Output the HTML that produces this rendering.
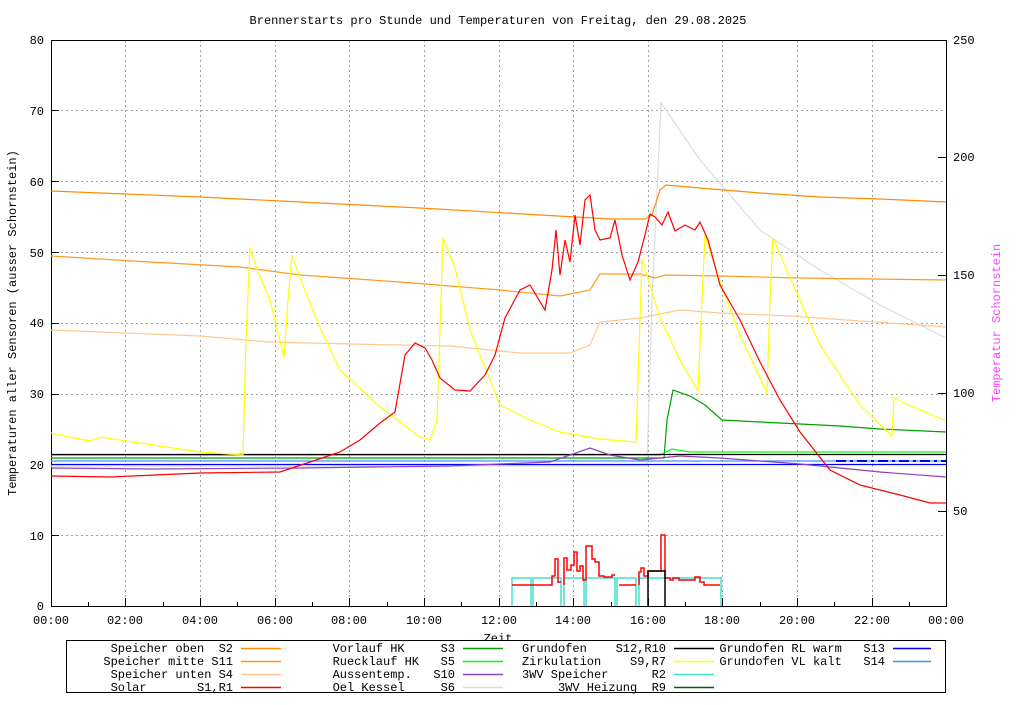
<!DOCTYPE html>
<html><head><meta charset="utf-8"><style>
body{margin:0;background:#fff;}
svg text{font-family:"Liberation Mono","DejaVu Sans Mono",monospace;font-size:12px;fill:#000;white-space:pre;}
</style></head><body>
<svg width="1024" height="700" xmlns="http://www.w3.org/2000/svg" xml:space="preserve">
<rect width="1024" height="700" fill="#fff"/>
<text x="498" y="24" text-anchor="middle" font-size="11">Brennerstarts pro Stunde und Temperaturen von Freitag, den 29.08.2025</text>
<g stroke="#a0a0a0" stroke-dasharray="2,3" stroke-width="1">
<path d="M51,535.5H946M51,464.5H946M51,394.5H946M51,323.5H946M51,252.5H946M51,181.5H946M51,110.5H946"/>
<path d="M125.5,40V606M200.5,40V606M275.5,40V606M349.5,40V606M424.5,40V606M499.5,40V606M573.5,40V606M648.5,40V606M722.5,40V606M797.5,40V606M872.5,40V606"/>
</g>
<rect x="51.5" y="40.5" width="895" height="566" fill="none" stroke="#000"/>
<g stroke="#000" stroke-width="1">
<path d="M51,535.5h8M51,464.5h8M51,394.5h8M51,323.5h8M51,252.5h8M51,181.5h8M51,110.5h8"/>
<path d="M946,511.5h-8M946,393.5h-8M946,275.5h-8M946,157.5h-8M946,40.5h-8"/>
<path d="M125.5,606v-8M200.5,606v-8M275.5,606v-8M349.5,606v-8M424.5,606v-8M499.5,606v-8M573.5,606v-8M648.5,606v-8M722.5,606v-8M797.5,606v-8M872.5,606v-8"/>
<path d="M88.5,606v-4M163.5,606v-4M237.5,606v-4M312.5,606v-4M387.5,606v-4M461.5,606v-4M536.5,606v-4M611.5,606v-4M685.5,606v-4M760.5,606v-4M834.5,606v-4M909.5,606v-4"/>
</g>
<g text-anchor="end">
<text x="44" y="610">0</text><text x="44" y="540">10</text><text x="44" y="469">20</text><text x="44" y="398">30</text><text x="44" y="327">40</text><text x="44" y="257">50</text><text x="44" y="186">60</text><text x="44" y="115">70</text><text x="44" y="44">80</text>
</g>
<g>
<text x="953" y="515">50</text><text x="953" y="397">100</text><text x="953" y="279">150</text><text x="953" y="161">200</text><text x="953" y="44">250</text>
</g>
<g text-anchor="middle">
<text x="51" y="624">00:00</text><text x="125" y="624">02:00</text><text x="200" y="624">04:00</text><text x="275" y="624">06:00</text><text x="349" y="624">08:00</text><text x="424" y="624">10:00</text><text x="499" y="624">12:00</text><text x="573" y="624">14:00</text><text x="648" y="624">16:00</text><text x="722" y="624">18:00</text><text x="797" y="624">20:00</text><text x="872" y="624">22:00</text><text x="946" y="624">00:00</text>
<text x="498" y="642">Zeit</text>
</g>
<text transform="translate(16,323) rotate(-90)" text-anchor="middle">Temperaturen aller Sensoren (ausser Schornstein)</text>
<text transform="translate(1000,323) rotate(-90)" text-anchor="middle" style="fill:#ff40ff">Temperatur Schornstein</text>
<g fill="none" stroke-width="1.2">
<path stroke="#dddddd" d="M51,466H647L652,300L661,103L700,160L760,230L820,270L880,305L946,338"/>
<path stroke="#ff8c00" d="M51,191L200,197L300,202L420,208L540,215L611,219L645,219L652,215L660,190L666,185L700,188L760,193L820,197L880,199L946,202"/>
<path stroke="#ff9a20" d="M51,256L150,262L240,267L300,275L400,282L500,290L560,296L590,290L600,274L640,274L655,278L666,275L720,276L800,278L946,280"/>
<path stroke="#ffc890" d="M51,330L200,336L270,342L350,344L450,346L520,353L570,353L590,345L600,322L620,320L640,318L680,310L720,313L790,316L946,327"/>
<path stroke="#00a000" d="M51,458H664L667,420L673,390L690,396L705,405L722,420L760,422L800,424L840,426L880,429L946,432"/>
<path stroke="#00ff00" d="M51,455H660L672,449L690,452H946"/>
<path stroke="#000" d="M51,454.5H946"/>
<path stroke="#4090ff" d="M51,461H946"/>
<path stroke="#0000ff" d="M51,464.5H946"/>
<path stroke="#0000ff" stroke-dasharray="10,4,3,4" stroke-width="2" d="M836,461H946"/>
<path stroke="#9040c0" d="M51,468L150,469L300,468L450,466L550,462L590,448L610,455L640,460L680,456L720,458L800,464L880,472L946,477"/>
<path stroke="#ffff00" d="M51,433L70,437L90,441L100,437L140,443L200,452L243,455L246,340L250,248L258,272L270,300L284,357L288,300L292,255L300,278L320,328L340,370L380,407L420,437L430,440L437,420L443,238L455,268L470,330L500,405L530,420L560,432L600,439L636,442L642,259L660,318L680,360L698,391L702,300L705,235L720,282L740,335L767,393L770,300L773,238L790,278L820,345L860,405L892,436L894,398L920,410L946,421"/>
<path stroke="#ff0000" d="M51,476L110,477L200,473L280,472L310,462L340,452L360,440L380,423L395,412L405,355L415,343L425,348L432,360L440,378L455,390L470,391L485,375L495,355L505,318L520,290L530,285L545,310L552,270L556,230L560,275L565,240L570,262L575,215L580,245L585,200L590,195L595,230L600,240L610,238L615,220L622,255L630,280L638,262L645,235L650,214L655,217L662,225L668,212L675,231L685,225L695,230L700,222L708,240L720,285L740,320L760,362L780,400L800,432L830,470L860,485L900,495L930,503L946,503"/>
</g>
<g fill="none" stroke-width="1.5">
<path stroke="#40e0d0" d="M512,606V578H531V606M533,606V578H561V606M564,606V578H584V606M586,606V578H615V606M617,606V578H636V606M639,606V578H721V606"/>
<path stroke="#ff0000" d="M512,585H552V576H555V559H558V582H561M564,585V558H567V570H571V565H574V552H577V571H580V566H583V580H586V546H592V559H595V562H599V576H604V577H612V575H615M619,585H636M639,585V572H641V568H644V576H648V571H661V535H665V578H670V580H673V578H679V580H695V577H700V582H704V585H720"/>
<path stroke="#000" d="M648,606V571H665V606"/>
</g>
<rect x="66.5" y="640.5" width="879" height="52" fill="#fff" stroke="#000"/>
<g text-anchor="end">
<text x="233" y="652">Speicher oben  S2</text>
<text x="233" y="665">Speicher mitte S11</text>
<text x="233" y="678">Speicher unten S4</text>
<text x="233" y="691">Solar       S1,R1</text>
<text x="455" y="652">Vorlauf HK     S3</text>
<text x="455" y="665">Ruecklauf HK   S5</text>
<text x="455" y="678">Aussentemp.   S10</text>
<text x="455" y="691">Oel Kessel     S6</text>
<text x="666" y="652">Grundofen    S12,R10</text>
<text x="666" y="665">Zirkulation    S9,R7</text>
<text x="666" y="678">3WV Speicher      R2</text>
<text x="666" y="691">3WV Heizung  R9</text>
<text x="885" y="652">Grundofen RL warm   S13</text>
<text x="885" y="665">Grundofen VL kalt   S14</text>
</g>
<g stroke-width="1.5">
<path stroke="#ff8c00" d="M241,648.5h40"/><path stroke="#ff9a20" d="M241,661.5h40"/><path stroke="#ffc890" d="M241,674.5h40"/><path stroke="#ff0000" d="M241,687.5h40"/>
<path stroke="#00a000" d="M463,648.5h40"/><path stroke="#00ff00" d="M463,661.5h40"/><path stroke="#9040c0" d="M463,674.5h40"/><path stroke="#dddddd" d="M463,687.5h40"/>
<path stroke="#000" d="M674,648.5h40"/><path stroke="#ffff00" d="M674,661.5h40"/><path stroke="#40e0d0" d="M674,674.5h40"/><path stroke="#006000" d="M674,687.5h40"/>
<path stroke="#0000ff" d="M893,648.5h38"/><path stroke="#4090ff" d="M893,661.5h38"/>
</g>
</svg>
</body></html>
